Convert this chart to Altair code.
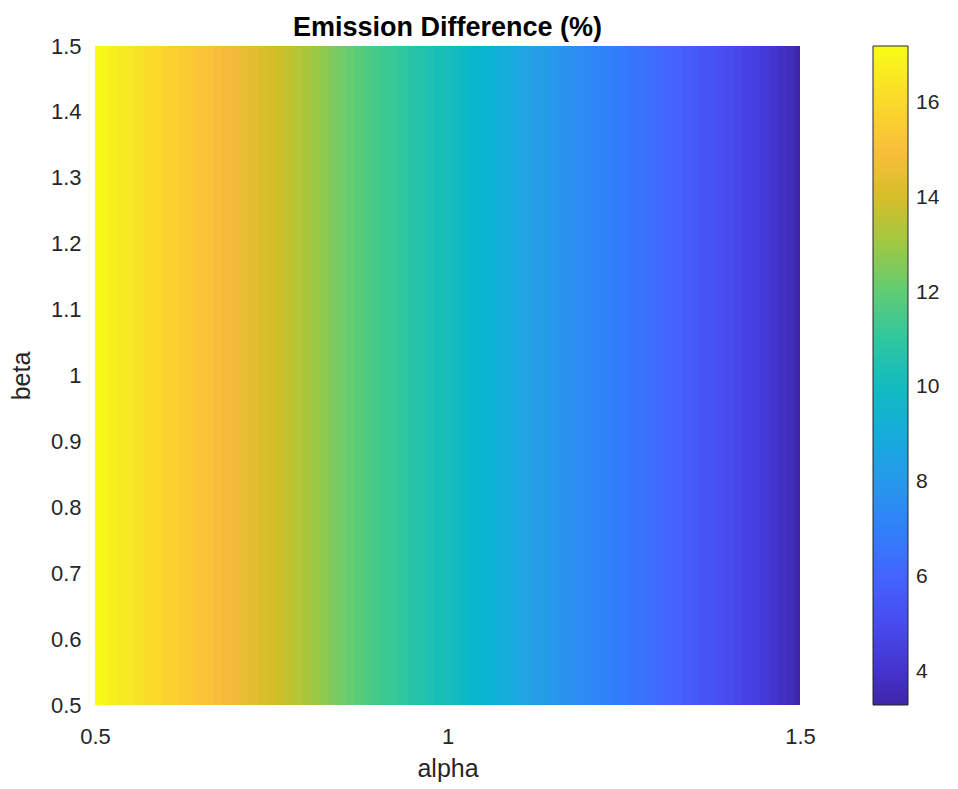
import altair as alt
import pandas as pd

# ---- data ----
alpha = [0.5000, 0.5125, 0.5250, 0.5375, 0.5500, 0.5625, 0.5750, 0.5875, 0.6000, 0.6125,
         0.6250, 0.6375, 0.6500, 0.6625, 0.6750, 0.6875, 0.7000, 0.7125, 0.7250, 0.7375,
         0.7500, 0.7625, 0.7750, 0.7875, 0.8000, 0.8125, 0.8250, 0.8375, 0.8500, 0.8625,
         0.8750, 0.8875, 0.9000, 0.9125, 0.9250, 0.9375, 0.9500, 0.9625, 0.9750, 0.9875,
         1.0000, 1.0125, 1.0250, 1.0375, 1.0500, 1.0625, 1.0750, 1.0875, 1.1000, 1.1125,
         1.1250, 1.1375, 1.1500, 1.1625, 1.1750, 1.1875, 1.2000, 1.2125, 1.2250, 1.2375,
         1.2500, 1.2625, 1.2750, 1.2875, 1.3000, 1.3125, 1.3250, 1.3375, 1.3500, 1.3625,
         1.3750, 1.3875, 1.4000, 1.4125, 1.4250, 1.4375, 1.4500, 1.4625, 1.4750, 1.4875,
         1.5000]
emission = [17.2, 17.0, 16.8, 16.6, 16.5, 16.3, 16.1, 16.0, 15.8, 15.7,
            15.5, 15.4, 15.2, 15.1, 14.9, 14.7, 14.6, 14.4, 14.3, 14.1,
            14.0, 13.8, 13.6, 13.4, 13.2, 13.0, 12.8, 12.5, 12.3, 12.1,
            11.9, 11.7, 11.5, 11.3, 11.2, 11.0, 10.8, 10.7, 10.5, 10.3,
            10.2, 10.0, 9.8, 9.6, 9.5, 9.3, 9.1, 8.9, 8.7, 8.5,
            8.3, 8.2, 8.0, 7.8, 7.7, 7.5, 7.4, 7.2, 7.1, 6.9,
            6.8, 6.6, 6.5, 6.3, 6.2, 6.0, 5.9, 5.7, 5.6, 5.4,
            5.3, 5.1, 5.0, 4.8, 4.6, 4.5, 4.3, 4.1, 3.8, 3.6,
            3.3]
beta_range = [0.5, 1.5]
x_ticks = [0.5, 1, 1.5]
y_ticks = [0.5, 0.6, 0.7, 0.8, 0.9, 1.0, 1.1, 1.2, 1.3, 1.4, 1.5]
cbar_ticks = [4, 6, 8, 10, 12, 14, 16]

# parula colormap (MATLAB) stops
parula_idx = [0, 4, 8, 12, 16, 20, 24, 28, 32, 36, 40, 44, 48, 52, 56, 60, 63]
parula_hex = ["#3e26a8", "#4537d5", "#484df0", "#4563fd", "#327cfc", "#2b91ef",
              "#20a5e3", "#08b5d0", "#19bfb6", "#37c897", "#64cd6f", "#9dc943",
              "#d1bf27", "#f8ba3d", "#fccf30", "#f6e924", "#f9fb15"]

vmin, vmax = min(emission), max(emission)
stop_domain = [vmin + (vmax - vmin) * i / 63 for i in parula_idx]

half = (alpha[1] - alpha[0]) / 2
df = pd.DataFrame({"alpha": alpha, "emission": emission})
df["a0"] = (df["alpha"] - half).clip(lower=alpha[0])
# slight overlap into the next cell hides anti-aliasing seams
df["a1"] = (df["alpha"] + half * 1.6).clip(upper=alpha[-1])
df["b0"] = beta_range[0]
df["b1"] = beta_range[1]

FONT = "Liberation Sans"
TXT = "#262626"

cscale = alt.Scale(domain=stop_domain, range=parula_hex, interpolate="rgb")

chart = alt.Chart(df).mark_rect().encode(
    x=alt.X("a0:Q",
            scale=alt.Scale(domain=[0.5, 1.5], nice=False, zero=False),
            axis=alt.Axis(title="alpha", values=x_ticks, format="~g",
                          labelFlush=False, labelPadding=21, titlePadding=9)),
    x2="a1:Q",
    y=alt.Y("b0:Q",
            scale=alt.Scale(domain=[0.5, 1.5], nice=False, zero=False),
            axis=alt.Axis(title="beta", values=y_ticks, format="~g",
                          labelFlush=False, labelPadding=14, titlePadding=16)),
    y2="b1:Q",
    color=alt.Color("emission:Q", scale=cscale,
                    legend=alt.Legend(type="gradient", title=None, orient="right",
                                      direction="vertical",
                                      gradientLength=659, gradientThickness=35,
                                      values=cbar_ticks, offset=73, padding=0,
                                      labelOffset=8, labelFontSize=21,
                                      labelFont=FONT, labelColor=TXT,
                                      gradientStrokeColor=TXT, gradientStrokeWidth=1)),
).properties(
    width=705,
    height=659,
    title=alt.TitleParams("Emission Difference (%)", font=FONT, fontSize=27,
                          fontWeight="bold", color="#000000", anchor="middle",
                          offset=10, dy=17),
    autosize=alt.AutoSizeParams(type="none"),
    padding={"left": 87, "top": 38, "right": 150, "bottom": 82},
).configure_axis(
    labelFont=FONT, labelFontSize=22, labelColor=TXT,
    titleFont=FONT, titleFontSize=25, titleFontWeight="normal", titleColor=TXT,
    ticks=False, tickSize=0, domain=False, grid=False,
).configure_view(stroke=None)

chart.save("out.html", embed_options={"renderer": "svg", "actions": False})
